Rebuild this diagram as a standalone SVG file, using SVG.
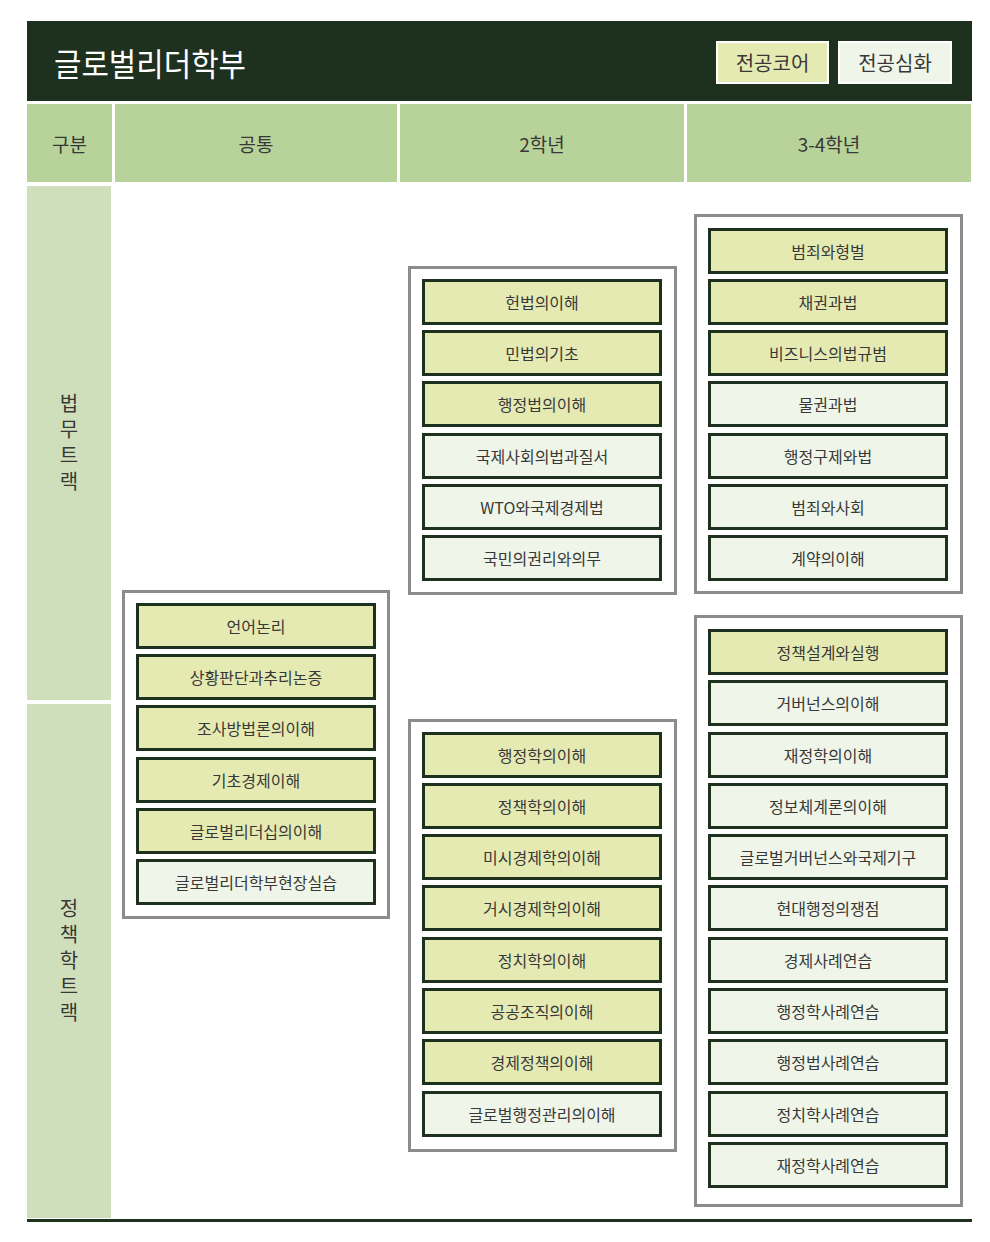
<svg xmlns="http://www.w3.org/2000/svg" width="990" height="1242" viewBox="0 0 990 1242">
<style>
text{font-family:"Noto Sans CJK KR","Noto Sans",sans-serif;fill:#383838;text-anchor:middle;dominant-baseline:central}
.hd{fill:#b8d39a}
.trk{fill:#d0dfbb}
.grp{fill:#fff;stroke:#8c8c8c;stroke-width:3}
.core{fill:#e5eab3;stroke:#1e301e;stroke-width:3}
.adv{fill:#eff5e8;stroke:#1e301e;stroke-width:3}
.ct{font-size:16px}
.colh{font-size:19px}
.tl{font-size:20px;writing-mode:vertical-rl;letter-spacing:6px}
</style>
<rect width="990" height="1242" fill="#fff"/>
<g id="header">
<rect x="27" y="21" width="945" height="80" fill="#1e301e"/>
<text x="54" y="62" textLength="192" lengthAdjust="spacingAndGlyphs" style="font-size:32px;fill:#fff;text-anchor:start">글로벌리더학부</text>
</g>
<g id="legend">
<rect x="717" y="42" width="111" height="41" fill="#e5eab3" stroke="#fff" stroke-width="2"/>
<text x="772.5" y="62" style="font-size:20px">전공코어</text>
<rect x="839" y="42" width="112" height="41" fill="#eff5e8" stroke="#fff" stroke-width="2"/>
<text x="895" y="62" style="font-size:20px">전공심화</text>
</g>
<g id="colheaders">
<rect class="hd" x="27" y="104" width="85" height="78"/>
<text class="colh" x="69.5" y="143">구분</text>
<rect class="hd" x="115" y="104" width="282" height="78"/>
<text class="colh" x="256" y="143">공통</text>
<rect class="hd" x="400" y="104" width="284" height="78"/>
<text class="colh" x="542" y="143">2학년</text>
<rect class="hd" x="687" y="104" width="284" height="78"/>
<text class="colh" x="829" y="143">3-4학년</text>
</g>
<g id="track-law">
<rect class="trk" x="27" y="186" width="84" height="514"/>
<text class="tl" x="69" y="445">법무트랙</text>
</g>
<g id="track-policy">
<rect class="trk" x="27" y="704" width="84" height="514"/>
<text class="tl" x="69" y="963">정책학트랙</text>
</g>
<g id="connectors"></g>
<g id="group-common">
<rect class="grp" x="123.5" y="591.5" width="265" height="326"/>
<g id="c-언어논리"><rect class="core" x="137.5" y="604.5" width="237" height="43"/><text class="ct" x="256" y="626">언어논리</text></g>
<g id="c-상황판단"><rect class="core" x="137.5" y="655.5" width="237" height="43"/><text class="ct" x="256" y="677">상황판단과추리논증</text></g>
<g id="c-조사방법론"><rect class="core" x="137.5" y="706.5" width="237" height="43"/><text class="ct" x="256" y="728">조사방법론의이해</text></g>
<g id="c-기초경제"><rect class="core" x="137.5" y="758.5" width="237" height="43"/><text class="ct" x="256" y="780">기초경제이해</text></g>
<g id="c-리더십"><rect class="core" x="137.5" y="809.5" width="237" height="43"/><text class="ct" x="256" y="831">글로벌리더십의이해</text></g>
<g id="c-현장실습"><rect class="adv" x="137.5" y="860.5" width="237" height="43"/><text class="ct" x="256" y="882">글로벌리더학부현장실습</text></g>
</g>
<g id="group-y2-law">
<rect class="grp" x="409.5" y="267.5" width="266" height="326"/>
<g id="y2l-1"><rect class="core" x="423.5" y="280.5" width="237" height="43"/><text class="ct" x="542" y="302">헌법의이해</text></g>
<g id="y2l-2"><rect class="core" x="423.5" y="331.5" width="237" height="43"/><text class="ct" x="542" y="353">민법의기초</text></g>
<g id="y2l-3"><rect class="core" x="423.5" y="382.5" width="237" height="43"/><text class="ct" x="542" y="404">행정법의이해</text></g>
<g id="y2l-4"><rect class="adv" x="423.5" y="434.5" width="237" height="43"/><text class="ct" x="542" y="456">국제사회의법과질서</text></g>
<g id="y2l-5"><rect class="adv" x="423.5" y="485.5" width="237" height="43"/><text class="ct" x="542" y="507">WTO와국제경제법</text></g>
<g id="y2l-6"><rect class="adv" x="423.5" y="536.5" width="237" height="43"/><text class="ct" x="542" y="558">국민의권리와의무</text></g>
</g>
<g id="group-y34-law">
<rect class="grp" x="695.5" y="215.5" width="266" height="377"/>
<g id="y3l-1"><rect class="core" x="709.5" y="229.5" width="237" height="43"/><text class="ct" x="828" y="251">범죄와형벌</text></g>
<g id="y3l-2"><rect class="core" x="709.5" y="280.5" width="237" height="43"/><text class="ct" x="828" y="302">채권과법</text></g>
<g id="y3l-3"><rect class="core" x="709.5" y="331.5" width="237" height="43"/><text class="ct" x="828" y="353">비즈니스의법규범</text></g>
<g id="y3l-4"><rect class="adv" x="709.5" y="382.5" width="237" height="43"/><text class="ct" x="828" y="404">물권과법</text></g>
<g id="y3l-5"><rect class="adv" x="709.5" y="434.5" width="237" height="43"/><text class="ct" x="828" y="456">행정구제와법</text></g>
<g id="y3l-6"><rect class="adv" x="709.5" y="485.5" width="237" height="43"/><text class="ct" x="828" y="507">범죄와사회</text></g>
<g id="y3l-7"><rect class="adv" x="709.5" y="536.5" width="237" height="43"/><text class="ct" x="828" y="558">계약의이해</text></g>
</g>
<g id="group-y2-policy">
<rect class="grp" x="409.5" y="720.5" width="266" height="430"/>
<g id="y2p-1"><rect class="core" x="423.5" y="733.5" width="237" height="43"/><text class="ct" x="542" y="755">행정학의이해</text></g>
<g id="y2p-2"><rect class="core" x="423.5" y="784.5" width="237" height="43"/><text class="ct" x="542" y="806">정책학의이해</text></g>
<g id="y2p-3"><rect class="core" x="423.5" y="835.5" width="237" height="43"/><text class="ct" x="542" y="857">미시경제학의이해</text></g>
<g id="y2p-4"><rect class="core" x="423.5" y="886.5" width="237" height="43"/><text class="ct" x="542" y="908">거시경제학의이해</text></g>
<g id="y2p-5"><rect class="core" x="423.5" y="938.5" width="237" height="43"/><text class="ct" x="542" y="960">정치학의이해</text></g>
<g id="y2p-6"><rect class="core" x="423.5" y="989.5" width="237" height="43"/><text class="ct" x="542" y="1011">공공조직의이해</text></g>
<g id="y2p-7"><rect class="core" x="423.5" y="1040.5" width="237" height="43"/><text class="ct" x="542" y="1062">경제정책의이해</text></g>
<g id="y2p-8"><rect class="adv" x="423.5" y="1092.5" width="237" height="43"/><text class="ct" x="542" y="1114">글로벌행정관리의이해</text></g>
</g>
<g id="group-y34-policy">
<rect class="grp" x="695.5" y="616.5" width="266" height="589"/>
<g id="y3p-1"><rect class="core" x="709.5" y="630.5" width="237" height="43"/><text class="ct" x="828" y="652">정책설계와실행</text></g>
<g id="y3p-2"><rect class="adv" x="709.5" y="681.5" width="237" height="43"/><text class="ct" x="828" y="703">거버넌스의이해</text></g>
<g id="y3p-3"><rect class="adv" x="709.5" y="733.5" width="237" height="43"/><text class="ct" x="828" y="755">재정학의이해</text></g>
<g id="y3p-4"><rect class="adv" x="709.5" y="784.5" width="237" height="43"/><text class="ct" x="828" y="806">정보체계론의이해</text></g>
<g id="y3p-5"><rect class="adv" x="709.5" y="835.5" width="237" height="43"/><text class="ct" x="828" y="857">글로벌거버넌스와국제기구</text></g>
<g id="y3p-6"><rect class="adv" x="709.5" y="886.5" width="237" height="43"/><text class="ct" x="828" y="908">현대행정의쟁점</text></g>
<g id="y3p-7"><rect class="adv" x="709.5" y="938.5" width="237" height="43"/><text class="ct" x="828" y="960">경제사례연습</text></g>
<g id="y3p-8"><rect class="adv" x="709.5" y="989.5" width="237" height="43"/><text class="ct" x="828" y="1011">행정학사례연습</text></g>
<g id="y3p-9"><rect class="adv" x="709.5" y="1040.5" width="237" height="43"/><text class="ct" x="828" y="1062">행정법사례연습</text></g>
<g id="y3p-10"><rect class="adv" x="709.5" y="1092.5" width="237" height="43"/><text class="ct" x="828" y="1114">정치학사례연습</text></g>
<g id="y3p-11"><rect class="adv" x="709.5" y="1143.5" width="237" height="43"/><text class="ct" x="828" y="1165">재정학사례연습</text></g>
</g>
<rect x="27" y="1219" width="945" height="3" fill="#1e301e"/>
</svg>
